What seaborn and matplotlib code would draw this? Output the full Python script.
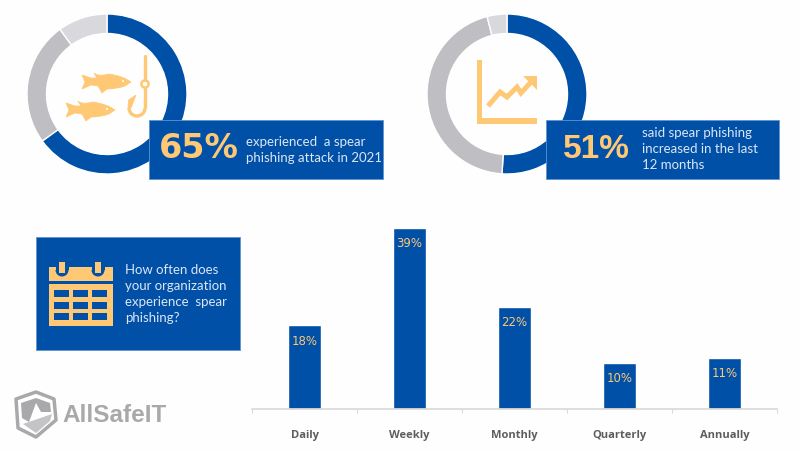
import matplotlib
matplotlib.use("Agg")
import matplotlib.pyplot as plt
import seaborn as sns
from matplotlib.patches import Rectangle, Circle, Polygon, PathPatch, Arc, Wedge
from matplotlib.path import Path

# Data
attack_shares = [65, 25, 10]
increase_shares = [51, 45, 4]
freq_labels = ["Daily", "Weekly", "Monthly", "Quarterly", "Annually"]
freq_values = [18, 39, 22, 10, 11]

BLUE = "#0050A8"
GREY = "#BFBEC2"
LIGHT = "#D9D8DD"
PEACH = "#FFC875"
PALE = "#DCE6F4"
BG = "#FEFEFE"

sns.set_theme(style="white")
plt.rcParams["font.family"] = ["Lato", "DejaVu Sans"]

W, H = 800, 450
fig = plt.figure(figsize=(8, 4.5), dpi=100, facecolor=BG)


def px_axes(left, top, width, height, **kw):
    return fig.add_axes([left / W, 1 - (top + height) / H, width / W, height / H], **kw)


# ===============================
# Donuts
# ===============================
def donut(cx, cy, shares):
    ax = px_axes(cx - 81, cy - 81, 162, 162)
    ax.pie(shares, colors=[BLUE, GREY, LIGHT], startangle=90, counterclock=False,
           radius=80 / 81, wedgeprops=dict(width=19.5 / 81, edgecolor="white", linewidth=1))
    ax.set_xlim(-1, 1)
    ax.set_ylim(-1, 1)
    ax.patch.set_alpha(0)


donut(107, 94, attack_shares)
donut(507, 94, increase_shares)

# ===============================
# Bars
# ===============================
ax = px_axes(252, 228, 525, 181)
ax.patch.set_alpha(0)
sns.barplot(x=freq_labels, y=freq_values, color=BLUE, saturation=1, width=33 / 105, ax=ax)
ax.set_xlim(-0.5, 4.5)
ax.set_ylim(0, 39)
ax.set_yticks([])
ax.set_xlabel("")
ax.set_ylabel("")
sns.despine(ax=ax, left=True)
ax.spines["bottom"].set_color("#DADADA")
ax.set_xticks([i - 0.5 for i in range(6)], minor=True)
ax.tick_params(axis="x", which="minor", bottom=True, length=3, color="#DADADA", width=0.8)
ax.tick_params(axis="x", which="major", bottom=False, pad=9)
for lab in ax.get_xticklabels():
    lab.set_fontsize(8)
    lab.set_fontweight("bold")
    lab.set_color("#5F5C60")
    lab.set_fontfamily(["Open Sans", "DejaVu Sans"])
ax.bar_label(ax.containers[0], fmt="%g%%", padding=-16, color=PEACH, fontsize=8.5,
             fontfamily="DejaVu Sans")

# ===============================
# Overlay in pixel coordinates: boxes, icons, text
# ===============================
ov = fig.add_axes([0, 0, 1, 1], zorder=5)
ov.set_xlim(0, W)
ov.set_ylim(H, 0)
ov.axis("off")

for x0, y0, x1, y1 in [(149, 120, 383, 179), (546, 120, 779, 179), (36, 237, 240, 350)]:
    ov.add_patch(Rectangle((x0, y0), x1 - x0, y1 - y0, fc=BLUE, ec="#5F92CE", lw=0.6))


def fish(x, y):
    # x,y = nose of the fish, body extends left 50 px
    verts = [(x, y), (x - 10, y - 8), (x - 25, y - 8), (x - 33, y - 6),
             (x - 37, y - 9), (x - 31, y - 11), (x - 33, y - 6), (x - 33, y - 6),
             (x - 40, y - 5), (x - 49, y - 7), (x - 49, y - 7),
             (x - 45, y), (x - 49, y + 7), (x - 49, y + 7),
             (x - 40, y + 3), (x - 33, y + 5), (x - 33, y + 5),
             (x - 30, y + 12), (x - 26, y + 11), (x - 26, y + 11),
             (x - 26, y + 8), (x - 25, y + 8), (x - 15, y + 8), (x - 7, y + 5), (x, y)]
    codes = [Path.MOVETO] + [Path.CURVE4] * 3 + [Path.LINETO] * 3 + [Path.LINETO] * 18
    verts = [(x, y), (x - 8, y - 6), (x - 22, y - 8), (x - 33, y - 5), (x - 37, y - 9),
             (x - 34, y - 4), (x - 40, y - 4), (x - 49, y - 7), (x - 46, y), (x - 49, y + 7),
             (x - 40, y + 3), (x - 33, y + 4), (x - 29, y + 11), (x - 24, y + 7),
             (x - 14, y + 7), (x - 6, y + 4), (x, y)]
    codes = [Path.MOVETO, Path.CURVE3, Path.CURVE3, Path.CURVE3, Path.LINETO, Path.LINETO,
             Path.LINETO, Path.LINETO, Path.LINETO, Path.LINETO, Path.LINETO, Path.LINETO,
             Path.LINETO, Path.LINETO, Path.CURVE3, Path.CURVE3, Path.LINETO]
    ov.add_patch(PathPatch(Path(verts, codes), fc=PEACH, ec=PEACH, lw=0.5))
    ov.add_patch(Circle((x - 8, y - 1), 1, fc="white", ec="none"))


fish(131, 82)
fish(115, 110)

# hook
ov.plot([145, 145], [56, 80], color=PEACH, lw=2.4, solid_capstyle="round")
ov.add_patch(Circle((145, 84), 3.6, fc="white", ec=PEACH, lw=1.8))
ov.plot([145, 145], [88, 108], color=PEACH, lw=2.4, solid_capstyle="butt")
ov.add_patch(Arc((137, 108), 16, 16, theta1=0, theta2=180, color=PEACH, lw=2.4))
ov.add_patch(Polygon([(128, 108), (131, 108), (136, 95), (128.5, 100)], fc=PEACH, ec=PEACH, lw=0.5))

# trend chart icon
ov.add_patch(Rectangle((477, 60), 5, 64, fc=PEACH, ec="none"))
ov.add_patch(Rectangle((477, 118), 60, 6, fc=PEACH, ec="none"))
ov.plot([488, 500, 507, 517, 521, 531], [106, 92, 97, 87, 93, 82], color=PEACH, lw=3.6,
        solid_joinstyle="miter", solid_capstyle="butt")
ov.add_patch(Polygon([(523, 76), (537, 76), (537, 90)], fc=PEACH, ec="none"))

# calendar icon
ov.add_patch(Rectangle((49, 267), 64, 14, fc=PEACH, ec="none"))
ov.add_patch(Rectangle((49, 284), 64, 42, fc=PEACH, ec="none"))
for rx in (62, 98):
    ov.add_patch(Wedge((rx, 270), 6.5, 0, 180, fc=BLUE, ec="none"))
    ov.add_patch(Rectangle((rx - 6.5, 262), 13, 8, fc=BLUE, ec="none"))
    ov.add_patch(Rectangle((rx - 3, 262), 6, 11, fc=PEACH, ec="none"))
for cx in (54.3, 73.3, 92.3):
    for cy, ch in ((290, 7.3), (301.7, 6.8), (312.7, 7.3)):
        ov.add_patch(Rectangle((cx, cy), 15, ch, fc=BLUE, ec="none"))

# text in boxes
ov.text(159, 149, "65%", color=PEACH, fontsize=24, fontweight="bold",
        fontfamily="DejaVu Sans", ha="left", va="center")
ov.text(563, 149, "51%", color=PEACH, fontsize=24, fontweight="bold",
        fontfamily="Liberation Sans", ha="left", va="center")
for txt, x, y in [("experienced  a spear", 246, 142), ("phishing attack in 2021", 246, 158),
                  ("said spear phishing", 642, 133), ("increased in the last", 642, 149),
                  ("12 months", 642, 165), ("How often does", 125, 270),
                  ("your organization", 125, 286), ("experience  spear", 125, 302),
                  ("phishing?", 125, 318)]:
    ov.text(x, y, txt, color=PALE, fontsize=9.5, ha="left", va="center")

# logo
shield = [(36, 392), (54, 399), (56, 420), (36, 437), (18, 428), (16, 399)]
ov.add_patch(Polygon(shield, fc="white", ec="#A9A9AC", lw=2.5, joinstyle="round"))
ov.add_patch(Polygon([(36, 398), (50, 403), (51, 412), (41, 412), (36, 403), (29, 422), (22, 418), (21, 403)],
                     fc="#A9A9AC", ec="none"))
ov.add_patch(Polygon([(23, 424), (52, 414), (50, 421), (36, 433)], fc="#C4C4C7", ec="none"))
ov.text(62, 415, "AllSafeIT", color="#A9A9AC", fontsize=17.5, fontweight="bold",
        fontfamily="Liberation Sans", ha="left", va="center")

fig.savefig("out.png", dpi=100, facecolor=BG)
